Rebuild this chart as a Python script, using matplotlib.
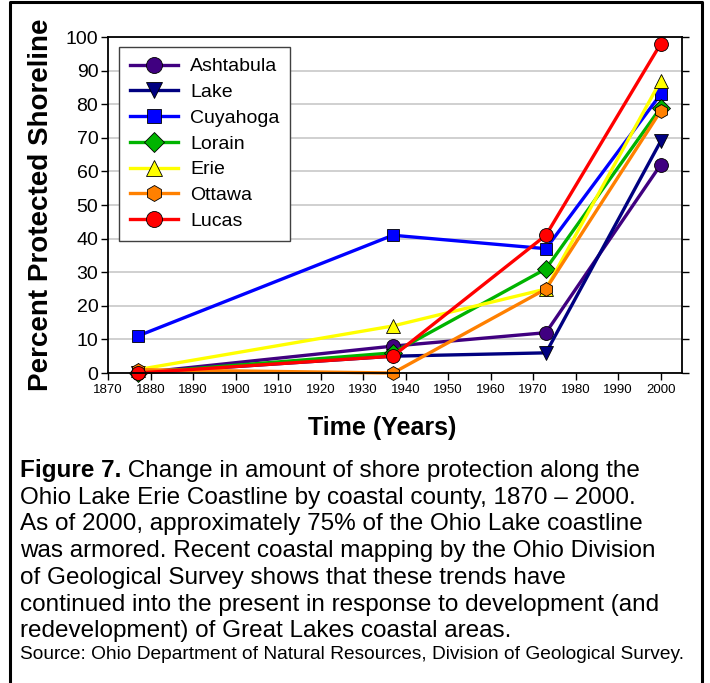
import matplotlib
matplotlib.use("Agg")
import matplotlib.pyplot as plt
from matplotlib.lines import Line2D

years = [1877, 1937, 1973, 2000]
counties = ["Ashtabula", "Lake", "Cuyahoga", "Lorain", "Erie", "Ottawa", "Lucas"]
ashtabula = [0, 8, 12, 62]
lake = [0, 5, 6, 69]
cuyahoga = [11, 41, 37, 83]
lorain = [0, 6, 31, 79]
erie = [1, 14, 25, 87]
ottawa = [1, 0, 25, 78]
lucas = [0, 5, 41, 98]
series = [ashtabula, lake, cuyahoga, lorain, erie, ottawa, lucas]

colors = ["#400080", "#000080", "#0000ff", "#00b400", "#ffff00", "#ff8000", "#ff0000"]
markers = ["o", "v", "s", "D", "^", "h", "o"]
msizes = [10, 10, 9, 9, 10, 10, 10]

x_ticks = list(range(1870, 2001, 10))
y_ticks = list(range(0, 101, 10))

caption_lines = [
    "Ohio Lake Erie Coastline by coastal county, 1870 \u2013 2000.",
    "As of 2000, approximately 75% of the Ohio Lake coastline",
    "was armored. Recent coastal mapping by the Ohio Division",
    "of Geological Survey shows that these trends have",
    "continued into the present in response to development (and",
    "redevelopment) of Great Lakes coastal areas.",
]
caption_head = "Figure 7."
caption_first = " Change in amount of shore protection along the"
source = "Source: Ohio Department of Natural Resources, Division of Geological Survey."

plt.rcParams["font.family"] = ["Liberation Sans", "DejaVu Sans"]

fig = plt.figure(figsize=(7.1, 6.83), dpi=100)
ax = fig.add_axes([108 / 710, 1 - 373 / 683, 574 / 710, 336 / 683])

for name, vals, c, m, ms in zip(counties, series, colors, markers, msizes):
    ax.plot(years, vals, color=c, lw=2.4, marker=m, ms=ms,
            markerfacecolor=c, markeredgecolor="black", markeredgewidth=0.6,
            label=name, clip_on=False)

ax.set_xlim(1870, 2005)
ax.set_ylim(0, 100)
ax.set_xticks(x_ticks)
ax.set_yticks(y_ticks)
ax.yaxis.grid(True, color="#c8c8c8", lw=1.2)
ax.set_axisbelow(True)
ax.tick_params(axis="y", labelsize=14, direction="out", length=5, width=1,
               right=True, pad=2)
ax.tick_params(axis="x", labelsize=9.5, direction="out", length=5, width=1, pad=3)
for s in ax.spines.values():
    s.set_linewidth(1.3)

ax.set_ylabel("Percent Protected Shoreline", fontsize=20, fontweight="bold")
ax.yaxis.label.set_va("center")
ax.yaxis.set_label_coords(-0.1167, 0.5)
ax.set_xlabel("Time (Years)", fontsize=18, fontweight="bold")
ax.xaxis.label.set_va("center")
ax.xaxis.set_label_coords(0.477, -0.164)

leg = ax.legend(loc="upper left", bbox_to_anchor=(0.019, 0.970), borderaxespad=0,
                fontsize=14, handlelength=2.5, labelspacing=0.42,
                fancybox=False, framealpha=1, edgecolor="#404040",
                markerscale=1.15, handletextpad=0.6, borderpad=0.55)
leg.get_frame().set_linewidth(1.0)

# caption
fig.canvas.draw()
renderer = fig.canvas.get_renderer()
y0 = 1 - 477 / 683
dy = 26.7 / 683
x0 = 20 / 710
head = fig.text(x0, y0, caption_head, fontsize=17.5, fontweight="bold", va="baseline")
bb = head.get_window_extent(renderer)
fig.text(bb.x1 / fig.bbox.width, y0, caption_first, fontsize=17.5, va="baseline")
for i, line in enumerate(caption_lines):
    fig.text(x0, y0 - dy * (i + 1), line, fontsize=17.5, va="baseline")
fig.text(x0, 1 - 659 / 683, source, fontsize=13.75, va="baseline")

# outer frame (open at bottom)
fx = [10 / 710, 10 / 710, 702 / 710, 702 / 710]
fy = [-0.01, 1 - 2 / 683, 1 - 2 / 683, -0.01]
fig.lines.append(Line2D(fx, fy, transform=fig.transFigure, color="black", lw=2.2))

fig.savefig("out.png", dpi=100)
